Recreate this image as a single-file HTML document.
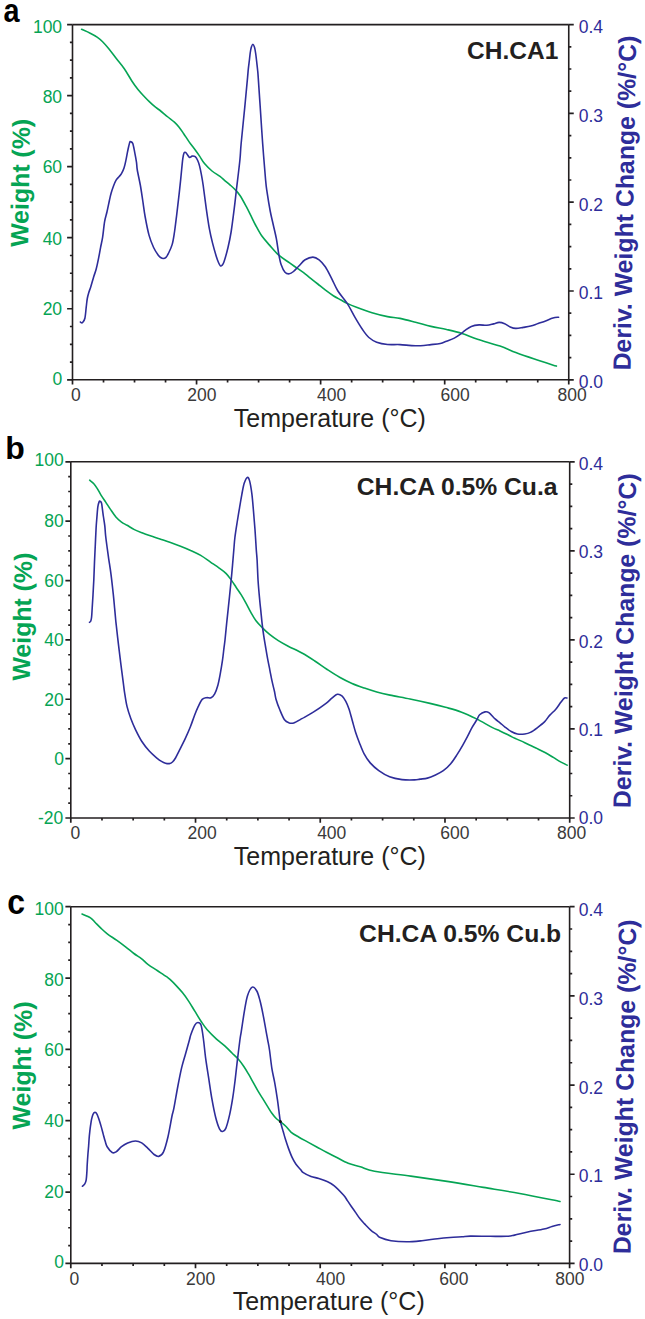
<!DOCTYPE html>
<html><head><meta charset="utf-8"><style>
html,body{margin:0;padding:0;background:#fff;}
svg{display:block;font-family:"Liberation Sans",sans-serif;}
</style></head><body>
<svg width="645" height="1319" viewBox="0 0 645 1319">
<rect width="645" height="1319" fill="#fff"/>
<path d="M72.5 24.6H568.75M72.5 24.6V379.8H568.75V24.6" stroke="#231f20" stroke-width="1.6" fill="none"/>
<path d="M67.1 379.8H72.5M69.9 362.04H72.5M69.9 344.28H72.5M69.9 326.52H72.5M67.1 308.76H72.5M69.9 291H72.5M69.9 273.24H72.5M69.9 255.48H72.5M67.1 237.72H72.5M69.9 219.96H72.5M69.9 202.2H72.5M69.9 184.44H72.5M67.1 166.68H72.5M69.9 148.92H72.5M69.9 131.16H72.5M69.9 113.4H72.5M67.1 95.64H72.5M69.9 77.88H72.5M69.9 60.12H72.5M69.9 42.36H72.5M67.1 24.6H72.5M568.75 379.8H573.75M568.75 357.6H571.35M568.75 335.4H571.35M568.75 313.2H571.35M568.75 291H573.75M568.75 268.8H571.35M568.75 246.6H571.35M568.75 224.4H571.35M568.75 202.2H573.75M568.75 180H571.35M568.75 157.8H571.35M568.75 135.6H571.35M568.75 113.4H573.75M568.75 91.2H571.35M568.75 69H571.35M568.75 46.8H571.35M568.75 24.6H573.75M72.5 379.8V384.6M103.52 379.8V382.4M134.53 379.8V382.4M165.55 379.8V382.4M196.56 379.8V384.6M227.58 379.8V382.4M258.59 379.8V382.4M289.61 379.8V382.4M320.62 379.8V384.6M351.64 379.8V382.4M382.66 379.8V382.4M413.67 379.8V382.4M444.69 379.8V384.6M475.7 379.8V382.4M506.72 379.8V382.4M537.73 379.8V382.4M568.75 379.8V384.6" stroke="#231f20" stroke-width="1.7" fill="none"/>
<path d="M81.6 29.3C83.03 29.95 87.62 31.9 90.2 33.2C92.78 34.5 95.03 35.68 97.1 37.1C99.17 38.52 100.65 39.77 102.6 41.7C104.55 43.63 106.48 45.85 108.8 48.7C111.12 51.55 113.92 55.45 116.5 58.8C119.08 62.15 121.72 65.07 124.3 68.8C126.88 72.53 129.68 77.7 132 81.2C134.32 84.7 136.08 87.17 138.2 89.8C140.32 92.43 142.85 95.03 144.7 97C146.55 98.97 147.6 99.98 149.3 101.6C151 103.22 153.2 105.3 154.9 106.7C156.6 108.1 157.33 108.28 159.5 110C161.67 111.72 165.42 114.98 167.9 117C170.38 119.02 172.53 120.4 174.4 122.1C176.27 123.8 177.55 125.27 179.1 127.2C180.65 129.13 182 131.22 183.7 133.7C185.4 136.18 187.43 139.47 189.3 142.1C191.17 144.73 193.18 147.17 194.9 149.5C196.62 151.83 198 153.75 199.6 156.1C201.2 158.45 202.43 161.12 204.5 163.6C206.57 166.08 209.42 168.87 212 171C214.58 173.13 217.92 174.85 220 176.4C222.08 177.95 222.85 178.9 224.5 180.3C226.15 181.7 228.15 183.27 229.9 184.8C231.65 186.33 233.32 187.72 235 189.5C236.68 191.28 238.13 192.68 240 195.5C241.87 198.32 244.38 203.03 246.2 206.4C248.02 209.77 249.35 212.6 250.9 215.7C252.45 218.8 253.7 221.65 255.5 225C257.3 228.35 259.37 232.45 261.7 235.8C264.03 239.15 266.65 241.87 269.5 245.1C272.35 248.33 275.45 252.23 278.8 255.2C282.15 258.17 286.5 260.7 289.6 262.9C292.7 265.1 294.82 266.58 297.4 268.4C299.98 270.22 303 272.23 305.1 273.8C307.2 275.37 307.88 276.1 310 277.8C312.12 279.5 315.22 281.93 317.8 284C320.38 286.07 322.92 288.25 325.5 290.2C328.08 292.15 330.72 294.07 333.3 295.7C335.88 297.33 338.68 298.72 341 300C343.32 301.28 344.62 302.18 347.2 303.4C349.78 304.62 352.37 305.75 356.5 307.3C360.63 308.85 366.83 311.15 372 312.7C377.17 314.25 382.83 315.65 387.5 316.6C392.17 317.55 395.33 317.47 400 318.4C404.67 319.33 410.33 320.87 415.5 322.2C420.67 323.53 425.83 325.18 431 326.4C436.17 327.62 441.33 328.33 446.5 329.5C451.67 330.67 456.83 331.77 462 333.4C467.17 335.03 471.17 337.18 477.5 339.3C483.83 341.42 493.62 343.88 500 346.1C506.38 348.32 510.07 350.43 515.8 352.6C521.53 354.77 527.63 356.85 534.4 359.1C541.17 361.35 552.73 364.93 556.4 366.1" stroke="#05a454" stroke-width="1.6" fill="none" stroke-linejoin="round" stroke-linecap="round"/>
<path d="M80.4 322C80.57 322.13 81.03 322.73 81.4 322.8C81.77 322.87 82.02 323.17 82.6 322.4C83.18 321.63 84.28 320.87 84.9 318.2C85.52 315.53 85.9 309.68 86.3 306.4C86.7 303.12 86.88 300.82 87.3 298.5C87.72 296.18 88.22 294.47 88.8 292.5C89.38 290.53 89.98 289.32 90.8 286.7C91.62 284.08 92.8 279.75 93.7 276.8C94.6 273.85 95.38 272.12 96.2 269C97.02 265.88 97.87 261.72 98.6 258.1C99.33 254.48 99.93 250.75 100.6 247.3C101.27 243.85 101.93 241.67 102.6 237.4C103.27 233.13 103.87 225.97 104.6 221.7C105.33 217.43 106.18 215.42 107 211.8C107.82 208.18 108.82 203.08 109.5 200C110.18 196.92 110.42 195.67 111.1 193.3C111.78 190.93 112.77 187.98 113.6 185.8C114.43 183.62 115.17 181.75 116.1 180.2C117.03 178.65 118.28 177.63 119.2 176.5C120.12 175.37 120.78 174.85 121.6 173.4C122.42 171.95 123.37 170.07 124.1 167.8C124.83 165.53 125.38 162.68 126 159.8C126.62 156.92 127.18 153.4 127.8 150.5C128.42 147.6 129.18 143.85 129.7 142.4C130.22 140.95 130.38 141.6 130.9 141.8C131.42 142 132.17 141.85 132.8 143.6C133.43 145.35 134.08 149.18 134.7 152.3C135.32 155.42 136.07 159.35 136.5 162.3C136.93 165.25 136.65 166.13 137.3 170C137.95 173.87 139.48 180.33 140.4 185.5C141.32 190.67 142.02 195.83 142.8 201C143.58 206.17 144.07 210.82 145.1 216.5C146.13 222.18 147.58 229.93 149 235.1C150.42 240.27 152.05 244.13 153.6 247.5C155.15 250.87 157.13 253.63 158.3 255.3C159.47 256.97 159.77 256.97 160.6 257.5C161.43 258.03 162.4 258.53 163.3 258.5C164.2 258.47 165.17 258.1 166 257.3C166.83 256.5 167.27 255.85 168.3 253.7C169.33 251.55 171.17 248.02 172.2 244.4C173.23 240.78 173.85 236.13 174.5 232C175.15 227.87 175.58 223.73 176.1 219.6C176.62 215.47 177.08 211.58 177.6 207.2C178.12 202.82 178.68 197.95 179.2 193.3C179.72 188.65 180.27 183.52 180.7 179.3C181.13 175.08 181.45 171.45 181.8 168C182.15 164.55 182.43 161.1 182.8 158.6C183.17 156.1 183.52 154.03 184 153C184.48 151.97 185.18 152.18 185.7 152.4C186.22 152.62 186.45 153.47 187.1 154.3C187.75 155.13 188.77 157.1 189.6 157.4C190.43 157.7 191.17 156.22 192.1 156.1C193.03 155.98 194.27 155.97 195.2 156.7C196.13 157.43 196.97 158.93 197.7 160.5C198.43 162.07 198.98 163.73 199.6 166.1C200.22 168.47 200.8 171.47 201.4 174.7C202 177.93 202.38 179.82 203.2 185.5C204.02 191.18 205.27 201.57 206.3 208.8C207.33 216.03 208.37 223.22 209.4 228.9C210.43 234.58 211.33 238.25 212.5 242.9C213.67 247.55 215.38 253.48 216.4 256.8C217.42 260.12 217.93 261.28 218.6 262.8C219.27 264.32 219.82 265.5 220.4 265.9C220.98 266.3 221.48 265.93 222.1 265.2C222.72 264.47 223.12 264.45 224.1 261.5C225.08 258.55 226.83 252.42 228 247.5C229.17 242.58 230.07 238.45 231.1 232C232.13 225.55 233.32 215.8 234.2 208.8C235.08 201.8 235.45 198.13 236.4 190C237.35 181.87 239.12 167.67 239.9 160C240.68 152.33 240.28 152.87 241.1 144C241.92 135.13 243.72 117.95 244.8 106.8C245.88 95.65 247.02 83.38 247.6 77.1C248.18 70.82 248 71.95 248.3 69.1C248.6 66.25 249.08 62.68 249.4 60C249.72 57.32 249.88 55.12 250.2 53C250.52 50.88 250.85 48.77 251.3 47.3C251.75 45.83 252.37 44.2 252.9 44.2C253.43 44.2 254.05 45.83 254.5 47.3C254.95 48.77 255.25 50.72 255.6 53C255.95 55.28 256.27 58.17 256.6 61C256.93 63.83 257.33 67.32 257.6 70C257.87 72.68 257.77 70.97 258.2 77.1C258.63 83.23 259.45 95.65 260.2 106.8C260.95 117.95 261.8 131.8 262.7 144C263.6 156.2 264.87 171.93 265.6 180C266.33 188.07 266.33 187.23 267.1 192.4C267.87 197.57 269.17 205.57 270.2 211C271.23 216.43 272.27 220.35 273.3 225C274.33 229.65 275.48 234 276.4 238.9C277.32 243.8 278.02 250.13 278.8 254.4C279.58 258.67 280.07 261.53 281.1 264.5C282.13 267.47 283.63 270.65 285 272.2C286.37 273.75 287.88 273.92 289.3 273.8C290.72 273.68 291.9 272.8 293.5 271.5C295.1 270.2 296.97 267.95 298.9 266C300.83 264.05 302.77 261.28 305.1 259.8C307.43 258.32 310.57 257.1 312.9 257.1C315.23 257.1 317.03 258.18 319.1 259.8C321.17 261.42 323.2 263.67 325.3 266.8C327.4 269.93 329.6 274.57 331.7 278.6C333.8 282.63 335.32 286.87 337.9 291C340.48 295.13 344.35 299 347.2 303.4C350.05 307.8 352.42 313 355 317.4C357.58 321.8 360.38 326.45 362.7 329.8C365.02 333.15 366.57 335.43 368.9 337.5C371.23 339.57 373.6 341.03 376.7 342.2C379.8 343.37 383.62 344.1 387.5 344.5C391.38 344.9 395.33 344.38 400 344.6C404.67 344.82 410.33 345.8 415.5 345.8C420.67 345.8 426.87 344.98 431 344.6C435.13 344.22 437.72 344.07 440.3 343.5C442.88 342.93 444.17 342.1 446.5 341.2C448.83 340.3 451.97 339.27 454.3 338.1C456.63 336.93 458.7 335.5 460.5 334.2C462.3 332.9 463.3 331.6 465.1 330.3C466.9 329 468.97 327.3 471.3 326.4C473.63 325.5 476.52 325.08 479.1 324.9C481.68 324.72 484.4 325.47 486.8 325.3C489.2 325.13 491.45 324.38 493.5 323.9C495.55 323.42 497.23 322.43 499.1 322.4C500.97 322.37 502.85 322.95 504.7 323.7C506.55 324.45 508.35 326.12 510.2 326.9C512.05 327.68 513.62 328.32 515.8 328.4C517.98 328.48 520.82 327.78 523.3 327.4C525.78 327.02 528.23 326.75 530.7 326.1C533.17 325.45 535.62 324.37 538.1 323.5C540.58 322.63 543.12 321.8 545.6 320.9C548.08 320 550.83 318.72 553 318.1C555.17 317.48 557.67 317.35 558.6 317.2" stroke="#2e2d9a" stroke-width="1.6" fill="none" stroke-linejoin="round" stroke-linecap="round"/>
<text x="62.19" y="385.42" font-size="17.5" fill="#05a454" text-anchor="end">0</text>
<text x="62.12" y="315.09" font-size="17.5" fill="#05a454" text-anchor="end">20</text>
<text x="62.12" y="244.78" font-size="17.5" fill="#05a454" text-anchor="end">40</text>
<text x="62.12" y="173.04" font-size="17.5" fill="#05a454" text-anchor="end">60</text>
<text x="62.12" y="102.78" font-size="17.5" fill="#05a454" text-anchor="end">80</text>
<text x="62.12" y="32.96" font-size="17.5" fill="#05a454" text-anchor="end">100</text>
<text x="578.78" y="387.87" font-size="17.5" fill="#2e2d9a">0.0</text>
<text x="578.72" y="298.76" font-size="17.5" fill="#2e2d9a">0.1</text>
<text x="578.72" y="210.72" font-size="17.5" fill="#2e2d9a">0.2</text>
<text x="578.72" y="121.61" font-size="17.5" fill="#2e2d9a">0.3</text>
<text x="578.72" y="32.53" font-size="17.5" fill="#2e2d9a">0.4</text>
<text x="75.77" y="401.17" font-size="17.5" fill="#3a3a3a" text-anchor="middle">0</text>
<text x="201.86" y="401.24" font-size="17.5" fill="#3a3a3a" text-anchor="middle">200</text>
<text x="331.71" y="401.21" font-size="17.5" fill="#3a3a3a" text-anchor="middle">400</text>
<text x="455.07" y="401.14" font-size="17.5" fill="#3a3a3a" text-anchor="middle">600</text>
<text x="572.04" y="401.25" font-size="17.5" fill="#3a3a3a" text-anchor="middle">800</text>
<text x="329.87" y="427.35" font-size="25" fill="#231f20" text-anchor="middle">Temperature (°C)</text>
<text x="558.3" y="58.5" font-size="24.5" fill="#231f20" font-weight="bold" text-anchor="end">CH.CA1</text>
<text transform="translate(3.5 22.1) scale(0.9 1.04)" font-size="32" font-weight="bold" fill="#000">a</text>
<text transform="translate(29 183) rotate(-89)" text-anchor="middle" font-size="24.9" font-weight="bold" fill="#05a454">Weight (%)</text>
<text transform="translate(633.3 203.2) rotate(-89)" text-anchor="middle" font-size="24.85" font-weight="bold" fill="#2e2d9a">Deriv. Weight Change (%/°C)</text>
<path d="M70.8 461.8H569.7M70.8 461.8V818H569.7V461.8" stroke="#231f20" stroke-width="1.6" fill="none"/>
<path d="M65.4 818H70.8M68.2 803.16H70.8M68.2 788.32H70.8M68.2 773.48H70.8M65.4 758.63H70.8M68.2 743.79H70.8M68.2 728.95H70.8M68.2 714.11H70.8M65.4 699.27H70.8M68.2 684.42H70.8M68.2 669.58H70.8M68.2 654.74H70.8M65.4 639.9H70.8M68.2 625.06H70.8M68.2 610.22H70.8M68.2 595.38H70.8M65.4 580.53H70.8M68.2 565.69H70.8M68.2 550.85H70.8M68.2 536.01H70.8M65.4 521.17H70.8M68.2 506.32H70.8M68.2 491.48H70.8M68.2 476.64H70.8M65.4 461.8H70.8M569.7 818H574.7M569.7 795.74H572.3M569.7 773.48H572.3M569.7 751.21H572.3M569.7 728.95H574.7M569.7 706.69H572.3M569.7 684.42H572.3M569.7 662.16H572.3M569.7 639.9H574.7M569.7 617.64H572.3M569.7 595.38H572.3M569.7 573.11H572.3M569.7 550.85H574.7M569.7 528.59H572.3M569.7 506.32H572.3M569.7 484.06H572.3M569.7 461.8H574.7M70.8 818V822.8M101.98 818V820.6M133.16 818V820.6M164.34 818V820.6M195.53 818V822.8M226.71 818V820.6M257.89 818V820.6M289.07 818V820.6M320.25 818V822.8M351.43 818V820.6M382.61 818V820.6M413.79 818V820.6M444.98 818V822.8M476.16 818V820.6M507.34 818V820.6M538.52 818V820.6M569.7 818V822.8" stroke="#231f20" stroke-width="1.7" fill="none"/>
<path d="M89.7 480.2C90.35 480.75 92.33 482.1 93.6 483.5C94.87 484.9 96.07 486.67 97.3 488.6C98.53 490.53 99.6 492.85 101 495.1C102.4 497.35 104.15 499.77 105.7 502.1C107.25 504.43 108.6 506.62 110.3 509.1C112 511.58 114.03 514.83 115.9 517C117.77 519.17 119.63 520.72 121.5 522.1C123.37 523.48 124.95 524.05 127.1 525.3C129.25 526.55 131.92 528.35 134.4 529.6C136.88 530.85 139.35 531.77 142 532.8C144.65 533.83 147.3 534.77 150.3 535.8C153.3 536.83 156.63 537.88 160 539C163.37 540.12 167.08 541.3 170.5 542.5C173.92 543.7 177.15 544.88 180.5 546.2C183.85 547.52 187.23 548.87 190.6 550.4C193.97 551.93 197.33 553.42 200.7 555.4C204.07 557.38 207.58 560.08 210.8 562.3C214.02 564.52 217.43 566.82 220 568.7C222.57 570.58 224.33 571.73 226.2 573.6C228.07 575.47 229.55 577.62 231.2 579.9C232.85 582.18 234.45 584.83 236.1 587.3C237.75 589.77 239.43 592.02 241.1 594.7C242.77 597.38 244.45 600.4 246.1 603.4C247.75 606.4 249.35 609.8 251 612.7C252.65 615.6 254.13 618.32 256 620.8C257.87 623.28 259.93 625.33 262.2 627.6C264.47 629.87 266.92 632.23 269.6 634.4C272.28 636.57 275.2 638.63 278.3 640.6C281.4 642.57 284.18 644.08 288.2 646.2C292.22 648.32 297.97 650.83 302.4 653.3C306.83 655.77 310.67 658.3 314.8 661C318.93 663.7 323.07 666.78 327.2 669.5C331.33 672.22 335.47 674.97 339.6 677.3C343.73 679.63 347.87 681.7 352 683.5C356.13 685.3 360.27 686.68 364.4 688.1C368.53 689.52 372.53 690.83 376.8 692C381.07 693.17 384.47 693.93 390 695.1C395.53 696.27 403.33 697.62 410 699C416.67 700.38 424.08 702.02 430 703.4C435.92 704.78 440.33 705.88 445.5 707.3C450.67 708.72 455.83 709.97 461 711.9C466.17 713.83 471.33 716.32 476.5 718.9C481.67 721.48 488.08 725.4 492 727.4C495.92 729.4 497.42 729.72 500 730.9C502.58 732.08 505.43 733.47 507.5 734.5C509.57 735.53 509.52 735.73 512.4 737.1C515.28 738.47 521.87 741.33 524.8 742.7C527.73 744.07 527.83 744.27 530 745.3C532.17 746.33 535.22 747.65 537.8 748.9C540.38 750.15 542.92 751.38 545.5 752.8C548.08 754.22 550.72 755.85 553.3 757.4C555.88 758.95 558.68 760.8 561 762.1C563.32 763.4 566.17 764.68 567.2 765.2" stroke="#05a454" stroke-width="1.6" fill="none" stroke-linejoin="round" stroke-linecap="round"/>
<path d="M89.5 622.3C89.72 622.08 90.45 621.88 90.8 621C91.15 620.12 91.37 619.17 91.6 617C91.83 614.83 91.97 611.67 92.2 608C92.43 604.33 92.73 599.67 93 595C93.27 590.33 93.55 585.5 93.8 580C94.05 574.5 94.25 567.83 94.5 562C94.75 556.17 95.03 550.67 95.3 545C95.57 539.33 95.83 532.6 96.1 528C96.37 523.4 96.62 520.87 96.9 517.4C97.18 513.93 97.45 509.75 97.8 507.2C98.15 504.65 98.62 503.1 99 502.1C99.38 501.1 99.68 501.05 100.1 501.2C100.52 501.35 101.12 501.68 101.5 503C101.88 504.32 102.08 506.85 102.4 509.1C102.72 511.35 103 513.72 103.4 516.5C103.8 519.28 104.43 522.63 104.8 525.8C105.17 528.97 105.2 531.8 105.6 535.5C106 539.2 106.68 544.12 107.2 548C107.72 551.88 108.07 554.42 108.7 558.8C109.33 563.18 110.23 568.37 111 574.3C111.77 580.23 112.7 588.78 113.3 594.4C113.9 600.02 114.2 603.73 114.6 608C115 612.27 115.42 617.08 115.7 620C115.98 622.92 115.82 621.22 116.3 625.5C116.78 629.78 117.83 639.23 118.6 645.7C119.37 652.17 120.12 658.1 120.9 664.3C121.68 670.5 122.7 678.28 123.3 682.9C123.9 687.52 123.88 688.08 124.5 692C125.12 695.92 125.93 701.93 127 706.4C128.07 710.87 129.48 714.93 130.9 718.8C132.32 722.67 133.7 725.87 135.5 729.6C137.3 733.33 139.37 737.58 141.7 741.2C144.03 744.82 146.92 748.45 149.5 751.3C152.08 754.15 155.2 756.62 157.2 758.3C159.2 759.98 160.12 760.58 161.5 761.4C162.88 762.22 164.2 762.83 165.5 763.2C166.8 763.57 168.13 763.8 169.3 763.6C170.47 763.4 171.47 762.93 172.5 762C173.53 761.07 174.43 759.78 175.5 758C176.57 756.22 177.3 754.48 178.9 751.3C180.5 748.12 183.17 743.03 185.1 738.9C187.03 734.77 188.95 730.37 190.5 726.5C192.05 722.63 193.1 719.05 194.4 715.7C195.7 712.35 197 709.12 198.3 706.4C199.6 703.68 200.83 700.85 202.2 699.4C203.57 697.95 205.03 697.97 206.5 697.7C207.97 697.43 209.63 698.45 211 697.8C212.37 697.15 213.57 695.85 214.7 693.8C215.83 691.75 216.88 688.78 217.8 685.5C218.72 682.22 219.42 678.32 220.2 674.1C220.98 669.88 221.87 664.58 222.5 660.2C223.13 655.82 223.58 651.17 224 647.8C224.42 644.43 224.55 644.15 225 640C225.45 635.85 225.95 630.15 226.7 622.9C227.45 615.65 228.65 604.77 229.5 596.5C230.35 588.23 231.08 581.05 231.8 573.3C232.52 565.55 233.28 555.97 233.8 550C234.32 544.03 234.33 542.17 234.9 537.5C235.47 532.83 236.43 526.9 237.2 522C237.97 517.1 238.72 512.75 239.5 508.1C240.28 503.45 241.12 498.23 241.9 494.1C242.68 489.97 243.3 486.08 244.2 483.3C245.1 480.52 246.4 477.8 247.3 477.4C248.2 477 248.83 478.12 249.6 480.9C250.37 483.68 251.25 489.05 251.9 494.1C252.55 499.15 252.98 505.25 253.5 511.2C254.02 517.15 254.53 523.33 255 529.8C255.47 536.27 255.95 544.97 256.3 550C256.65 555.03 256.8 554.83 257.1 560C257.4 565.17 257.67 574.33 258.1 581C258.53 587.67 259.23 594.9 259.7 600C260.17 605.1 260.5 607.72 260.9 611.6C261.3 615.48 261.65 619.42 262.1 623.3C262.55 627.18 263.03 631.03 263.6 634.9C264.17 638.77 264.85 642.63 265.5 646.5C266.15 650.37 266.78 654.22 267.5 658.1C268.22 661.98 269.03 665.92 269.8 669.8C270.57 673.68 271.32 677.78 272.1 681.4C272.88 685.02 273.85 688.53 274.5 691.5C275.15 694.47 275.12 696.15 276 699.2C276.88 702.25 278.38 706.37 279.8 709.8C281.22 713.23 282.95 717.62 284.5 719.8C286.05 721.98 287.55 722.38 289.1 722.9C290.65 723.42 291.58 723.65 293.8 722.9C296.02 722.15 299.15 720.18 302.4 718.4C305.65 716.62 309.42 714.67 313.3 712.2C317.18 709.73 322.6 705.93 325.7 703.6C328.8 701.27 329.97 699.75 331.9 698.2C333.83 696.65 335.63 694.68 337.3 694.3C338.97 693.92 340.48 694.73 341.9 695.9C343.32 697.07 344.62 699.12 345.8 701.3C346.98 703.48 347.9 705.72 349 709C350.1 712.28 351.32 717.18 352.4 721C353.48 724.82 354.33 728.28 355.5 731.9C356.67 735.52 357.98 739.08 359.4 742.7C360.82 746.32 362.2 750.23 364 753.6C365.8 756.97 367.73 760.07 370.2 762.9C372.67 765.73 375.57 768.28 378.8 770.6C382.03 772.92 385.73 775.3 389.6 776.8C393.47 778.3 397.87 779.08 402 779.6C406.13 780.12 411.4 779.98 414.4 779.9C417.4 779.82 417.83 779.4 420 779.1C422.17 778.8 424.92 778.73 427.4 778.1C429.88 777.47 432.25 776.53 434.9 775.3C437.55 774.07 440.67 772.63 443.3 770.7C445.93 768.77 448.38 766.42 450.7 763.7C453.02 760.98 455.18 757.5 457.2 754.4C459.22 751.3 461.1 748.05 462.8 745.1C464.5 742.15 465.85 739.65 467.4 736.7C468.95 733.75 470.55 730.18 472.1 727.4C473.65 724.62 475.45 722.1 476.7 720C477.95 717.9 478.22 716.15 479.6 714.8C480.98 713.45 483.45 712.25 485 711.9C486.55 711.55 487.22 711.53 488.9 712.7C490.58 713.87 493.25 717.22 495.1 718.9C496.95 720.58 498.35 721.43 500 722.8C501.65 724.17 503.13 725.65 505 727.1C506.87 728.55 509.13 730.35 511.2 731.5C513.27 732.65 515.13 733.58 517.4 734C519.67 734.42 522.63 734.27 524.8 734C526.97 733.73 528.33 733.43 530.4 732.4C532.47 731.37 534.82 729.6 537.2 727.8C539.58 726 542.63 723.67 544.7 721.6C546.77 719.53 547.75 717.47 549.6 715.4C551.45 713.33 553.93 711.38 555.8 709.2C557.67 707.02 559.35 704.17 560.8 702.3C562.25 700.43 563.47 698.72 564.5 698C565.53 697.28 566.58 698 567 698" stroke="#2e2d9a" stroke-width="1.6" fill="none" stroke-linejoin="round" stroke-linecap="round"/>
<text x="63.34" y="824.07" font-size="17.5" fill="#05a454" text-anchor="end">-20</text>
<text x="63.97" y="764.83" font-size="17.5" fill="#05a454" text-anchor="end">0</text>
<text x="63.78" y="705.8" font-size="17.5" fill="#05a454" text-anchor="end">20</text>
<text x="63.78" y="646.06" font-size="17.5" fill="#05a454" text-anchor="end">40</text>
<text x="63.78" y="587.41" font-size="17.5" fill="#05a454" text-anchor="end">60</text>
<text x="63.78" y="527.4" font-size="17.5" fill="#05a454" text-anchor="end">80</text>
<text x="63.78" y="466.36" font-size="17.5" fill="#05a454" text-anchor="end">100</text>
<text x="578.72" y="824.07" font-size="17.5" fill="#2e2d9a">0.0</text>
<text x="578.67" y="735.85" font-size="17.5" fill="#2e2d9a">0.1</text>
<text x="578.67" y="647.7" font-size="17.5" fill="#2e2d9a">0.2</text>
<text x="578.67" y="558.49" font-size="17.5" fill="#2e2d9a">0.3</text>
<text x="578.67" y="470.28" font-size="17.5" fill="#2e2d9a">0.4</text>
<text x="75.43" y="838.59" font-size="17.5" fill="#3a3a3a" text-anchor="middle">0</text>
<text x="202.16" y="838.64" font-size="17.5" fill="#3a3a3a" text-anchor="middle">200</text>
<text x="331.74" y="838.62" font-size="17.5" fill="#3a3a3a" text-anchor="middle">400</text>
<text x="454.92" y="838.58" font-size="17.5" fill="#3a3a3a" text-anchor="middle">600</text>
<text x="571.61" y="838.62" font-size="17.5" fill="#3a3a3a" text-anchor="middle">800</text>
<text x="329.86" y="864.67" font-size="25" fill="#231f20" text-anchor="middle">Temperature (°C)</text>
<text x="557.54" y="495.05" font-size="24.7" fill="#231f20" font-weight="bold" text-anchor="end">CH.CA 0.5% Cu.a</text>
<text transform="translate(5.23 459.2) scale(1.0 1.0)" font-size="32" font-weight="bold" fill="#000">b</text>
<text transform="translate(30.9 616.8) rotate(-89)" text-anchor="middle" font-size="24.9" font-weight="bold" fill="#05a454">Weight (%)</text>
<text transform="translate(633.3 640.9) rotate(-89)" text-anchor="middle" font-size="24.85" font-weight="bold" fill="#2e2d9a">Deriv. Weight Change (%/°C)</text>
<path d="M70.8 906.7H569.6M70.8 906.7V1263.4H569.6V906.7" stroke="#231f20" stroke-width="1.6" fill="none"/>
<path d="M65.4 1263.4H70.8M68.2 1245.57H70.8M68.2 1227.73H70.8M68.2 1209.89H70.8M65.4 1192.06H70.8M68.2 1174.23H70.8M68.2 1156.39H70.8M68.2 1138.56H70.8M65.4 1120.72H70.8M68.2 1102.88H70.8M68.2 1085.05H70.8M68.2 1067.22H70.8M65.4 1049.38H70.8M68.2 1031.55H70.8M68.2 1013.71H70.8M68.2 995.88H70.8M65.4 978.04H70.8M68.2 960.21H70.8M68.2 942.37H70.8M68.2 924.54H70.8M65.4 906.7H70.8M569.6 1263.4H574.6M569.6 1241.11H572.2M569.6 1218.81H572.2M569.6 1196.52H572.2M569.6 1174.23H574.6M569.6 1151.93H572.2M569.6 1129.64H572.2M569.6 1107.34H572.2M569.6 1085.05H574.6M569.6 1062.76H572.2M569.6 1040.46H572.2M569.6 1018.17H572.2M569.6 995.88H574.6M569.6 973.58H572.2M569.6 951.29H572.2M569.6 928.99H572.2M569.6 906.7H574.6M70.8 1263.4V1268.2M101.97 1263.4V1266M133.15 1263.4V1266M164.32 1263.4V1266M195.5 1263.4V1268.2M226.68 1263.4V1266M257.85 1263.4V1266M289.02 1263.4V1266M320.2 1263.4V1268.2M351.38 1263.4V1266M382.55 1263.4V1266M413.73 1263.4V1266M444.9 1263.4V1268.2M476.08 1263.4V1266M507.25 1263.4V1266M538.42 1263.4V1266M569.6 1263.4V1268.2" stroke="#231f20" stroke-width="1.7" fill="none"/>
<path d="M82 914C83.42 914.63 88.3 916.38 90.5 917.8C92.7 919.22 93.52 920.82 95.2 922.5C96.88 924.18 98.53 925.97 100.6 927.9C102.67 929.83 104.88 932.03 107.6 934.1C110.32 936.17 113.8 938.1 116.9 940.3C120 942.5 123.37 945.1 126.2 947.3C129.03 949.5 131.32 951.57 133.9 953.5C136.48 955.43 139.37 957.1 141.7 958.9C144.03 960.7 145.32 962.37 147.9 964.3C150.48 966.23 154.1 968.43 157.2 970.5C160.3 972.57 164.37 975.22 166.5 976.7C168.63 978.18 168.38 977.92 170 979.4C171.62 980.88 174.13 983.4 176.2 985.6C178.27 987.8 180.33 990.02 182.4 992.6C184.47 995.18 186.53 998 188.6 1001.1C190.67 1004.2 192.73 1007.85 194.8 1011.2C196.87 1014.55 198.93 1018.1 201 1021.2C203.07 1024.3 204.62 1026.82 207.2 1029.8C209.78 1032.78 213.4 1036.27 216.5 1039.1C219.6 1041.93 223.22 1044.48 225.8 1046.8C228.38 1049.12 229.9 1050.92 232 1053C234.1 1055.08 236.4 1057.02 238.4 1059.3C240.4 1061.58 242.3 1064.22 244 1066.7C245.7 1069.18 247.05 1071.55 248.6 1074.2C250.15 1076.85 251.75 1079.82 253.3 1082.6C254.85 1085.38 256.35 1088.27 257.9 1090.9C259.45 1093.53 261.05 1095.92 262.6 1098.4C264.15 1100.88 265.65 1103.32 267.2 1105.8C268.75 1108.28 270.35 1111.13 271.9 1113.3C273.45 1115.47 275.12 1117.42 276.5 1118.8C277.88 1120.18 278.65 1120.35 280.2 1121.6C281.75 1122.85 283.97 1124.52 285.8 1126.3C287.63 1128.08 289.07 1130.52 291.2 1132.3C293.33 1134.08 295.82 1135.37 298.6 1137C301.38 1138.63 304.8 1140.4 307.9 1142.1C311 1143.8 314.1 1145.5 317.2 1147.2C320.3 1148.9 323.4 1150.67 326.5 1152.3C329.6 1153.93 332.18 1155.17 335.8 1157C339.42 1158.83 344.12 1161.67 348.2 1163.3C352.28 1164.93 355.92 1165.47 360.3 1166.8C364.68 1168.13 366.08 1169.75 374.5 1171.3C382.92 1172.85 398.7 1174.42 410.8 1176.1C422.9 1177.78 435 1179.52 447.1 1181.4C459.2 1183.28 471.3 1185.38 483.4 1187.4C495.5 1189.42 506.93 1191.15 519.7 1193.5C532.47 1195.85 553.28 1200.17 560 1201.5" stroke="#05a454" stroke-width="1.6" fill="none" stroke-linejoin="round" stroke-linecap="round"/>
<path d="M82.4 1186.2C82.8 1185.8 84.17 1184.87 84.8 1183.8C85.43 1182.73 85.85 1181.83 86.2 1179.8C86.55 1177.77 86.73 1174.1 86.9 1171.6C87.07 1169.1 87.03 1167.65 87.2 1164.8C87.37 1161.95 87.67 1157.57 87.9 1154.5C88.13 1151.43 88.38 1149.23 88.6 1146.4C88.82 1143.57 88.98 1140.12 89.2 1137.5C89.42 1134.88 89.67 1132.75 89.9 1130.7C90.13 1128.65 90.32 1127.13 90.6 1125.2C90.88 1123.27 91.2 1120.92 91.6 1119.1C92 1117.28 92.43 1115.43 93 1114.3C93.57 1113.17 94.32 1112.3 95 1112.3C95.68 1112.3 96.42 1113.05 97.1 1114.3C97.78 1115.55 98.42 1117.75 99.1 1119.8C99.78 1121.85 100.52 1124.22 101.2 1126.6C101.88 1128.98 102.52 1131.6 103.2 1134.1C103.88 1136.6 104.62 1139.45 105.3 1141.6C105.98 1143.75 106.15 1145.18 107.3 1147C108.45 1148.82 110.73 1151.68 112.2 1152.5C113.67 1153.32 114.55 1152.87 116.1 1151.9C117.65 1150.93 119.57 1148.2 121.5 1146.7C123.43 1145.2 125.37 1143.85 127.7 1142.9C130.03 1141.95 133.17 1141 135.5 1141C137.83 1141 139.63 1141.68 141.7 1142.9C143.77 1144.12 145.83 1146.37 147.9 1148.3C149.97 1150.23 152.3 1153.15 154.1 1154.5C155.9 1155.85 157.15 1156.78 158.7 1156.4C160.25 1156.02 161.85 1155.48 163.4 1152.2C164.95 1148.92 166.58 1142.65 168 1136.7C169.42 1130.75 170.92 1121.25 171.9 1116.5C172.88 1111.75 172.92 1113.2 173.9 1108.2C174.88 1103.2 176.52 1093.22 177.8 1086.5C179.08 1079.78 180.32 1073.32 181.6 1067.9C182.88 1062.48 184.2 1058.65 185.5 1054C186.8 1049.35 188.5 1043.27 189.4 1040C190.3 1036.73 190 1036.88 190.9 1034.4C191.8 1031.92 193.63 1027.08 194.8 1025.1C195.97 1023.12 196.87 1022.5 197.9 1022.5C198.93 1022.5 200.1 1022.52 201 1025.1C201.9 1027.68 202.52 1032.42 203.3 1038C204.08 1043.58 204.78 1051.8 205.7 1058.6C206.62 1065.4 207.77 1072.08 208.8 1078.8C209.83 1085.52 210.75 1092.45 211.9 1098.9C213.05 1105.35 214.42 1112.47 215.7 1117.5C216.98 1122.53 218.43 1126.77 219.6 1129.1C220.77 1131.43 221.67 1131.62 222.7 1131.5C223.73 1131.38 224.63 1131.25 225.8 1128.4C226.97 1125.55 228.53 1119.57 229.7 1114.4C230.87 1109.23 231.9 1103.08 232.8 1097.4C233.7 1091.72 234.33 1086.5 235.1 1080.3C235.87 1074.1 236.6 1066.92 237.4 1060.2C238.2 1053.48 239.25 1044.82 239.9 1040C240.55 1035.18 240.55 1036.1 241.3 1031.3C242.05 1026.5 243.37 1017.13 244.4 1011.2C245.43 1005.27 246.2 999.72 247.5 995.7C248.8 991.68 250.65 987.88 252.2 987.1C253.75 986.32 255.52 988.8 256.8 991C258.08 993.2 258.87 996.42 259.9 1000.3C260.93 1004.18 261.97 1009.13 263 1014.3C264.03 1019.47 265.32 1027.02 266.1 1031.3C266.88 1035.58 267.13 1036.88 267.7 1040C268.27 1043.12 268.8 1045.23 269.5 1050C270.2 1054.77 271.03 1063.17 271.9 1068.6C272.77 1074.03 273.78 1077.48 274.7 1082.6C275.62 1087.72 276.72 1094.73 277.4 1099.3C278.08 1103.87 278.33 1106.43 278.8 1110C279.27 1113.57 279.73 1118.03 280.2 1120.7C280.67 1123.37 281.1 1124.2 281.6 1126C282.1 1127.8 282.53 1129.2 283.2 1131.5C283.87 1133.8 284.73 1137.03 285.6 1139.8C286.47 1142.57 287.32 1145.17 288.4 1148.1C289.48 1151.03 290.87 1154.75 292.1 1157.4C293.33 1160.05 294.4 1161.98 295.8 1164C297.2 1166.02 299.25 1168.07 300.5 1169.5C301.75 1170.93 301.55 1171.43 303.3 1172.6C305.05 1173.77 308.42 1175.53 311 1176.5C313.58 1177.47 316.22 1177.62 318.8 1178.4C321.38 1179.18 323.92 1179.97 326.5 1181.2C329.08 1182.43 331.43 1183.45 334.3 1185.8C337.17 1188.15 341.52 1192.83 343.7 1195.3C345.88 1197.77 346.15 1198.78 347.4 1200.6C348.65 1202.42 349.85 1204.23 351.2 1206.2C352.55 1208.17 354.07 1210.33 355.5 1212.4C356.93 1214.47 358.25 1216.65 359.8 1218.6C361.35 1220.55 362.93 1222.15 364.8 1224.1C366.67 1226.05 369.03 1228.58 371 1230.3C372.97 1232.02 375.07 1233.18 376.6 1234.4C378.13 1235.62 377.8 1236.55 380.2 1237.6C382.6 1238.65 386.62 1240 391 1240.7C395.38 1241.4 401.33 1241.8 406.5 1241.8C411.67 1241.8 416.83 1241.22 422 1240.7C427.17 1240.18 432.83 1239.23 437.5 1238.7C442.17 1238.17 445.9 1237.83 450 1237.5C454.1 1237.17 458.73 1236.93 462.1 1236.7C465.47 1236.47 465.5 1236.17 470.2 1236.1C474.9 1236.03 484.25 1236.27 490.3 1236.3C496.35 1236.33 502.47 1236.5 506.5 1236.3C510.53 1236.1 510.97 1235.82 514.5 1235.1C518.03 1234.38 522.8 1233.02 527.7 1232C532.6 1230.98 539.85 1229.92 543.9 1229C547.95 1228.08 549.32 1227.25 552 1226.5C554.68 1225.75 558.67 1224.83 560 1224.5" stroke="#2e2d9a" stroke-width="1.6" fill="none" stroke-linejoin="round" stroke-linecap="round"/>
<circle cx="280.4" cy="1121.4" r="1.5" fill="#111"/>
<text x="63.97" y="1268.3" font-size="17.5" fill="#05a454" text-anchor="end">0</text>
<text x="63.78" y="1197.64" font-size="17.5" fill="#05a454" text-anchor="end">20</text>
<text x="63.78" y="1126.96" font-size="17.5" fill="#05a454" text-anchor="end">40</text>
<text x="63.78" y="1056.19" font-size="17.5" fill="#05a454" text-anchor="end">60</text>
<text x="63.78" y="985.6" font-size="17.5" fill="#05a454" text-anchor="end">80</text>
<text x="63.78" y="914.86" font-size="17.5" fill="#05a454" text-anchor="end">100</text>
<text x="578.77" y="1270.86" font-size="17.5" fill="#2e2d9a">0.0</text>
<text x="578.71" y="1182.22" font-size="17.5" fill="#2e2d9a">0.1</text>
<text x="578.71" y="1093.65" font-size="17.5" fill="#2e2d9a">0.2</text>
<text x="578.71" y="1005" font-size="17.5" fill="#2e2d9a">0.3</text>
<text x="578.71" y="916.36" font-size="17.5" fill="#2e2d9a">0.4</text>
<text x="74.43" y="1284.69" font-size="17.5" fill="#3a3a3a" text-anchor="middle">0</text>
<text x="200.7" y="1284.73" font-size="17.5" fill="#3a3a3a" text-anchor="middle">200</text>
<text x="330.53" y="1284.72" font-size="17.5" fill="#3a3a3a" text-anchor="middle">400</text>
<text x="453.87" y="1284.73" font-size="17.5" fill="#3a3a3a" text-anchor="middle">600</text>
<text x="569.9" y="1284.75" font-size="17.5" fill="#3a3a3a" text-anchor="middle">800</text>
<text x="328.73" y="1310.28" font-size="25" fill="#231f20" text-anchor="middle">Temperature (°C)</text>
<text x="561.17" y="942" font-size="24.7" fill="#231f20" font-weight="bold" text-anchor="end">CH.CA 0.5% Cu.b</text>
<text transform="translate(7.24 914.2) scale(1.0 1.09)" font-size="32" font-weight="bold" fill="#000">c</text>
<text transform="translate(30.8 1065.6) rotate(-89)" text-anchor="middle" font-size="24.9" font-weight="bold" fill="#05a454">Weight (%)</text>
<text transform="translate(633.4 1087) rotate(-89)" text-anchor="middle" font-size="24.85" font-weight="bold" fill="#2e2d9a">Deriv. Weight Change (%/°C)</text>
</svg>
</body></html>
